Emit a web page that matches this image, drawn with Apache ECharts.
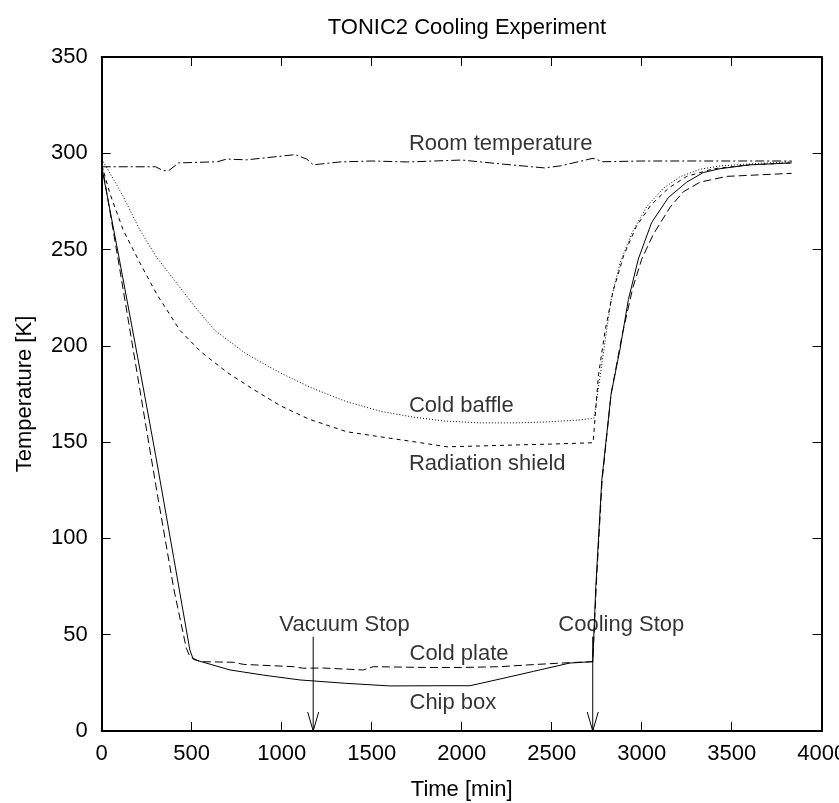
<!DOCTYPE html>
<html>
<head>
<meta charset="utf-8">
<script src="https://cdn.jsdelivr.net/npm/echarts@6/dist/echarts.min.js"></script>
<style>html,body{margin:0;padding:0;background:#fff;}#c{width:839px;height:803px;}</style>
</head>
<body>
<div id="c"></div>
<script>
// ---- data ----
const xTicks = [0, 500, 1000, 1500, 2000, 2500, 3000, 3500, 4000];
const yTicks = [0, 50, 100, 150, 200, 250, 300, 350];

const roomTime = [0, 300, 340, 372, 427, 643, 694, 806, 1074, 1139, 1176, 1324, 1500, 1700, 2000, 2214, 2460, 2550, 2730, 2785, 3000, 3400, 3833];
const roomTemp = [293, 293, 291, 291, 295, 295.6, 297, 296.6, 299.3, 297, 294, 295.5, 296, 295.5, 296.5, 294.5, 292.4, 293.5, 297.4, 295.6, 296, 296, 296];

const baffleTime = [0, 50, 120, 213, 305, 417, 520, 629, 800, 991, 1170, 1361, 1550, 1731, 1900, 2102, 2300, 2472, 2650, 2735, 2770, 2805, 2833, 2879, 2944, 3028, 3120, 3213, 3324, 3435, 3600, 3833];
const baffleTemp = [297, 289, 277.5, 260, 246, 232.5, 220, 208, 196, 186, 178, 171, 166, 163, 161, 160, 160, 160.5, 161.5, 162.4, 185, 208, 225.5, 242.8, 258.4, 272.3, 281.8, 287.8, 291.7, 293.4, 294.5, 295.6];

const shieldTime = [0, 46, 120, 213, 305, 435, 550, 700, 850, 991, 1150, 1361, 1546, 1750, 1917, 2100, 2287, 2500, 2730, 2760, 2797, 2840, 2900, 2970, 3050, 3150, 3250, 3400, 3600, 3833];
const shieldTemp = [294, 279, 260, 243, 227, 208, 197, 186, 177, 169, 162, 155.4, 152.8, 150, 147.6, 148, 148.5, 149, 149.7, 185, 208, 228, 247, 262, 273, 282, 288, 292, 294, 295];

const plateTime = [0, 100, 200, 300, 400, 470, 490, 546, 731, 787, 1064, 1120, 1231, 1453, 1509, 1800, 2000, 2213, 2400, 2601, 2728, 2750, 2780, 2830, 2890, 2950, 3000, 3065, 3158, 3231, 3324, 3472, 3833];
const plateTemp = [295, 240, 184, 128, 74, 43, 38.6, 36, 35.7, 34.6, 33.4, 32.6, 32.7, 31.7, 33.4, 33, 33, 33.4, 34.5, 35.5, 36, 80, 130, 175, 205, 230, 245, 258, 272, 280, 285, 288, 289.6];

const chipTime = [0, 100, 200, 300, 400, 490, 509, 713, 900, 1102, 1350, 1602, 1850, 2046, 2213, 2400, 2601, 2728, 2745, 2778, 2830, 2879, 2926, 2981, 3055, 3148, 3250, 3342, 3435, 3600, 3833];
const chipTemp = [293, 244, 194, 143, 90, 42, 37.2, 31.7, 29, 26.5, 24.8, 23.4, 23.5, 23.5, 27, 31, 35.3, 36, 75, 130, 175, 198, 224, 245, 264, 277, 285, 290, 292, 294, 295];

const labelTexts = ['Room temperature', 'Cold baffle', 'Radiation shield', 'Cold plate', 'Chip box', 'Vacuum Stop', 'Cooling Stop'];
const labelTime = [1707, 1707, 1707, 1710, 1710, 987, 2537];
const labelTemp = [305, 169, 138.5, 40, 14.5, 55, 55];

const arrowTime = [1175, 2728];
const arrowTop = [49, 49];
const arrowBottom = [0, 0];

// ---- chart ----
const zip = (a, b) => a.map((v, i) => [v, b[i]]);
const FONT = 'Liberation Sans, Arial, Helvetica, sans-serif';
const chart = echarts.init(document.getElementById('c'), null, {renderer: 'canvas'});

function lineSeries(name, t, v, dash) {
  return {
    name, type: 'line', data: zip(t, v), symbol: 'none', smooth: false,
    lineStyle: {color: '#000', width: 1, type: dash},
    animation: false, z: 3
  };
}

function axisCommon() {
  return {
    min: 0, axisLine: {show: true, onZero: false, lineStyle: {color: '#000', width: 2}},
    axisTick: {show: true, inside: true, length: 9, lineStyle: {color: '#000', width: 1}},
    splitLine: {show: false}
  };
}

chart.setOption({
  animation: false,
  backgroundColor: '#fff',
  title: {
    text: 'TONIC2 Cooling Experiment', left: 462, top: 12, textAlign: 'center',
    textStyle: {fontFamily: FONT, fontSize: 22, fontWeight: 'normal', color: '#000'}
  },
  grid: {left: 101.7, right: 17.3, top: 57, bottom: 72, containLabel: false, outerBoundsMode: 'none'},
  xAxis: [
    Object.assign(axisCommon(), {
      type: 'value', max: 4000, interval: 500, position: 'bottom',
      name: 'Time [min]', nameLocation: 'middle', nameGap: 48,
      nameTextStyle: {fontFamily: FONT, fontSize: 22, color: '#000'},
      axisLabel: {fontFamily: FONT, fontSize: 22, color: '#000', margin: 12, hideOverlap: false,
        formatter: v => xTicks.includes(v) ? String(v) : ''}
    }),
    Object.assign(axisCommon(), {
      type: 'value', max: 4000, interval: 500, position: 'top', axisLabel: {show: false}
    })
  ],
  yAxis: [
    Object.assign(axisCommon(), {
      type: 'value', max: 350, interval: 50, position: 'left',
      name: 'Temperature [K]', nameLocation: 'middle', nameGap: 66,
      nameTextStyle: {fontFamily: FONT, fontSize: 22, color: '#000'},
      axisLabel: {fontFamily: FONT, fontSize: 22, color: '#000', margin: 14,
        formatter: v => yTicks.includes(v) ? String(v) : ''}
    }),
    Object.assign(axisCommon(), {
      type: 'value', max: 350, interval: 50, position: 'right', axisLabel: {show: false}
    })
  ],
  series: [
    lineSeries('Room temperature', roomTime, roomTemp, [9, 3, 2, 3]),
    lineSeries('Cold baffle', baffleTime, baffleTemp, [1, 2]),
    lineSeries('Radiation shield', shieldTime, shieldTemp, [4, 4]),
    lineSeries('Cold plate', plateTime, plateTemp, [8, 4]),
    lineSeries('Chip box', chipTime, chipTemp, 'solid'),
    {
      type: 'custom', name: 'arrows', animation: false, z: 4,
      data: arrowTime.map((t, i) => [t, arrowTop[i], arrowBottom[i]]),
      renderItem: function (params, api) {
        const top = api.coord([api.value(0), api.value(1)]);
        const tip = api.coord([api.value(0), api.value(2)]);
        return {
          type: 'group',
          children: [
            {type: 'line', shape: {x1: top[0], y1: top[1], x2: tip[0], y2: tip[1]},
              style: {stroke: '#000', lineWidth: 1}},
            {type: 'polyline', shape: {points: [[tip[0] - 5.5, tip[1] - 19], [tip[0], tip[1]], [tip[0] + 5.5, tip[1] - 19]]},
              style: {stroke: '#000', lineWidth: 1, fill: null}}
          ]
        };
      }
    },
    {
      type: 'scatter', name: 'labels', symbolSize: 0, animation: false, z: 5,
      data: labelTexts.map((s, i) => ({name: s, value: [labelTime[i], labelTemp[i]]})),
      label: {show: true, position: 'right', distance: 0, formatter: p => p.name,
        fontFamily: FONT, fontSize: 22, color: '#000'}
    }
  ]
});
</script>
</body>
</html>
